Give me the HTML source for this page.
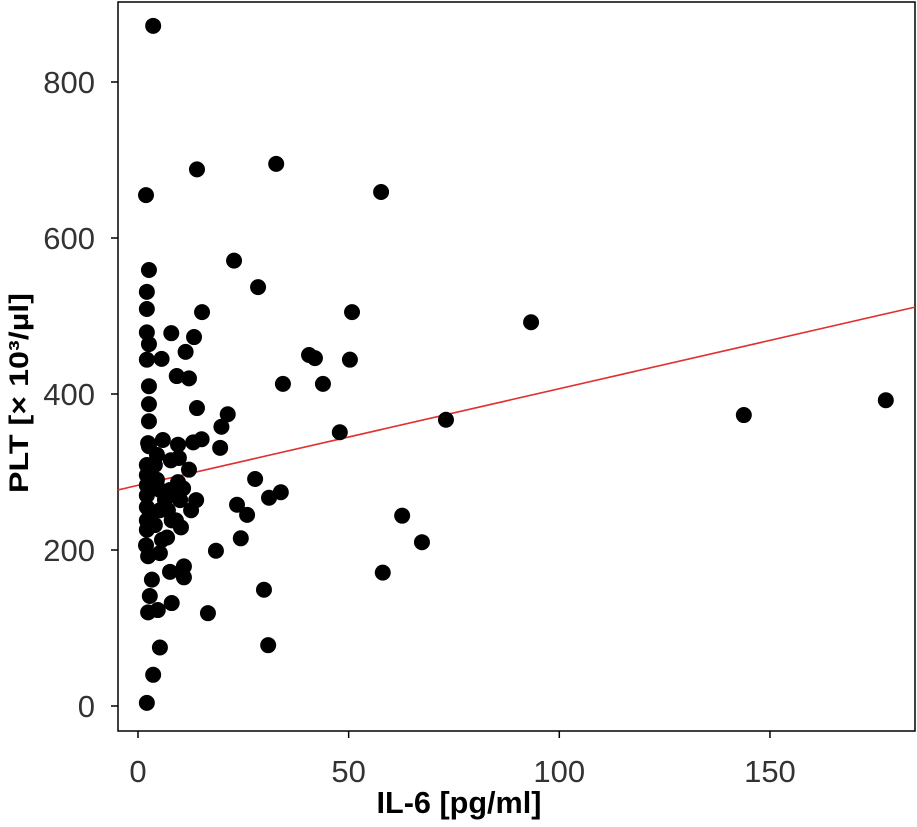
<!DOCTYPE html>
<html><head><meta charset="utf-8"><style>
body{margin:0;background:#fff}
svg{display:block;font-family:"Liberation Sans","DejaVu Sans",sans-serif}
</style></head><body>
<svg id="chart" width="917" height="827">
<rect x="118" y="2" width="797" height="729" fill="none" stroke="#000" stroke-width="1.5"/>
<g id="marks"></g><g id="axes"></g>
<text x="459" y="813" font-size="31" font-weight="bold" text-anchor="middle" textLength="165" lengthAdjust="spacingAndGlyphs">IL-6 [pg/ml]</text>
<text transform="translate(28,393) rotate(-90)" font-size="27" font-weight="bold" text-anchor="middle" textLength="200" lengthAdjust="spacingAndGlyphs">PLT [× 10³/µl]</text>
</svg>
<script>
const xs=[3.6,1.9,14,32.8,57.7,2.6,2.1,2.1,2.1,2.6,2.1,2.6,2.6,2.6,2.6,22.8,28.5,15.2,50.8,93.3,7.9,13.3,11.3,5.6,9.2,12.1,14,21.3,19.8,19.5,15.1,13.1,9.5,5.9,2.4,40.6,42,50.3,34.4,43.9,47.9,73.1,143.8,177.5,27.8,33.9,31.1,23.5,25.9,24.4,18.5,62.7,67.4,58.1,29.9,16.6,30.9,7.6,10.9,10.9,8,5.2,3.6,2.1,4.7,2.8,3.3,2.4,2.4,5.2,10,13.8,12.6,9,10.2,6.9,5.7,1.9,2.1,2.1,2.1,2.1,2.1,2.1,2.1,4,4.5,5.2,6.4,5.2,4,2.8,7.6,9.5,10.7,12.1,9.7,7.8,4.5,8,7.1];
const ys=[872,655,688,695,659,559,531,509,479,464,444,410,387,365,333,571,537,505,505,492,478,473,454,445,423,420,382,374,358,331,342,338,335,341,337,450,446,444,413,413,351,367,373,392,291,274,267,258,245,215,199,244,210,171,149,119,78,172,165,179,132,75,40,4,123,141,162,120,192,196,264,264,251,238,229,216,213,206,226,238,255,270,283,296,309,309,290,277,264,251,232,245,277,287,279,303,318,315,322,238,251];
const xTicks=[0,50,100,150];
const yTicks=[0,200,400,600,800];
const fit=[282.9,1.239]; // intercept, slope
const X=v=>138+v*4.213, Y=v=>706-v*0.78;
const NS="http://www.w3.org/2000/svg";
const m=document.getElementById('marks'),a=document.getElementById('axes');
function el(t,at,p){const e=document.createElementNS(NS,t);for(const k in at)e.setAttribute(k,at[k]);p.appendChild(e);return e;}
const ln=el('line',{x1:118,y1:Y(fit[0]+fit[1]*(-4.75)),x2:915,y2:Y(fit[0]+fit[1]*184.4),stroke:'#e03030','stroke-width':1.6},m);


xs.forEach((x,i)=>{const c=el('circle',{cx:X(x),cy:Y(ys[i]),r:8,fill:'#000'},m);

});
xTicks.forEach(t=>{el('line',{x1:X(t),x2:X(t),y1:731,y2:738,stroke:'#000','stroke-width':1.5},a);
const tx=el('text',{x:X(t),y:782,'font-size':31,'text-anchor':'middle',fill:'#333'},a);tx.textContent=t;

});
yTicks.forEach(t=>{el('line',{x1:111,x2:118,y1:Y(t),y2:Y(t),stroke:'#000','stroke-width':1.5},a);
const tx=el('text',{x:95,y:Y(t)+11,'font-size':31,'text-anchor':'end',fill:'#333'},a);tx.textContent=t;

});
</script>
</body></html>
